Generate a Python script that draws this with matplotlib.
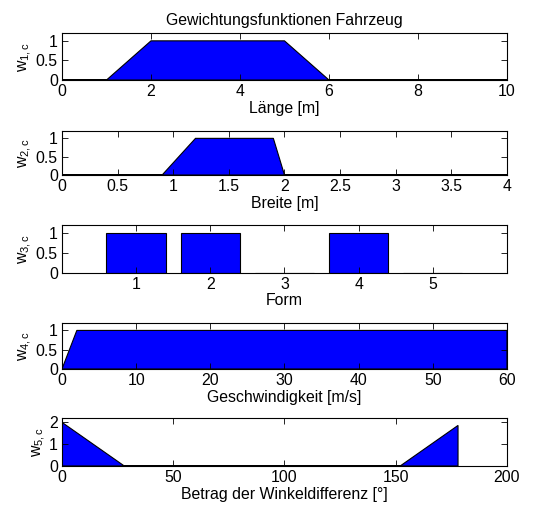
import numpy as np
import matplotlib.pyplot as plt

plt.rcParams['font.family'] = ['Liberation Sans', 'DejaVu Sans']
plt.rcParams['font.size'] = 11.4
plt.rcParams['mathtext.fontset'] = 'custom'
plt.rcParams['mathtext.rm'] = 'Liberation Sans'
plt.rcParams['mathtext.it'] = 'Liberation Sans'

# membership functions (x breakpoints, weights)
LAENGE_X = [0, 1, 2, 5, 6, 10]
LAENGE_W = [0, 0, 1, 1, 0, 0]
BREITE_X = [0, 0.9, 1.2, 1.9, 2.0, 4]
BREITE_W = [0, 0, 1, 1, 0, 0]
FORM_CAT = [1, 2, 3, 4, 5]
FORM_W = [1, 1, 0, 1, 0]
GESCHW_X = [0, 2, 60]
GESCHW_W = [0, 1, 1]
WINKEL_X = [0, 28, 152, 178, 178]
WINKEL_W = [2, 0, 0, 1.86, 0]

BLUE = '#0000ff'

fig = plt.figure(figsize=(5.34, 5.11), dpi=100)

# [left, bottom, width, height] per panel
pos = [[0.1161, 0.8434, 0.8333, 0.092],
       [0.1161, 0.6575, 0.8333, 0.0861],
       [0.1161, 0.4663, 0.8333, 0.0933],
       [0.1161, 0.2779, 0.8333, 0.0906],
       [0.1161, 0.0881, 0.8333, 0.0939]]
axs = [fig.add_axes(p) for p in pos]

def style(ax):
    ax.tick_params(direction='in', top=True, right=True, length=4, width=0.6, pad=3)
    for s in ax.spines.values():
        s.set_linewidth(0.8)

# 1: Laenge
ax = axs[0]
ax.fill(LAENGE_X, LAENGE_W, facecolor=BLUE, edgecolor='k', linewidth=0.8)
ax.set_xlim(0, 10)
ax.set_ylim(0, 1.2)
ax.set_xticks(np.arange(0, 11, 2))
ax.set_yticks([0, 0.5, 1])
ax.set_yticklabels(['0', '0.5', '1'])
ax.set_xlabel('Länge [m]', labelpad=1)
ax.set_ylabel('w$_{1,c}$', labelpad=1)
ax.set_title('Gewichtungsfunktionen Fahrzeug', fontsize=11.4, pad=6)
style(ax)

# 2: Breite
ax = axs[1]
ax.fill(BREITE_X, BREITE_W, facecolor=BLUE, edgecolor='k', linewidth=0.8)
ax.set_xlim(0, 4)
ax.set_ylim(0, 1.2)
ax.set_xticks(np.arange(0, 4.01, 0.5))
ax.set_xticklabels(['0', '0.5', '1', '1.5', '2', '2.5', '3', '3.5', '4'])
ax.set_yticks([0, 0.5, 1])
ax.set_yticklabels(['0', '0.5', '1'])
ax.set_xlabel('Breite [m]', labelpad=1)
ax.set_ylabel('w$_{2,c}$', labelpad=1)
style(ax)

# 3: Form
ax = axs[2]
ax.bar(FORM_CAT, FORM_W, width=0.8, color=BLUE, edgecolor='k', linewidth=0.8)
ax.set_xlim(0, 6)
ax.set_ylim(0, 1.2)
ax.set_xticks(FORM_CAT)
ax.set_yticks([0, 0.5, 1])
ax.set_yticklabels(['0', '0.5', '1'])
ax.set_xlabel('Form', labelpad=1)
ax.set_ylabel('w$_{3,c}$', labelpad=1)
style(ax)

# 4: Geschwindigkeit
ax = axs[3]
ax.fill(GESCHW_X + [60], GESCHW_W + [0], facecolor=BLUE, edgecolor='k', linewidth=0.8)
ax.set_xlim(0, 60)
ax.set_ylim(0, 1.2)
ax.set_xticks(np.arange(0, 61, 10))
ax.set_yticks([0, 0.5, 1])
ax.set_yticklabels(['0', '0.5', '1'])
ax.set_xlabel('Geschwindigkeit [m/s]', labelpad=1)
ax.set_ylabel('w$_{4,c}$', labelpad=1)
style(ax)

# 5: Winkeldifferenz
ax = axs[4]
ax.fill([0] + WINKEL_X, [0] + WINKEL_W, facecolor=BLUE, edgecolor='k', linewidth=0.8)
ax.set_xlim(0, 200)
ax.set_ylim(0, 2.2)
ax.set_xticks(np.arange(0, 201, 50))
ax.set_yticks([0, 1, 2])
ax.set_xlabel('Betrag der Winkeldifferenz [°]', labelpad=1)
ax.set_ylabel('w$_{5,c}$', labelpad=1)
style(ax)

plt.savefig('out.png', dpi=100)
